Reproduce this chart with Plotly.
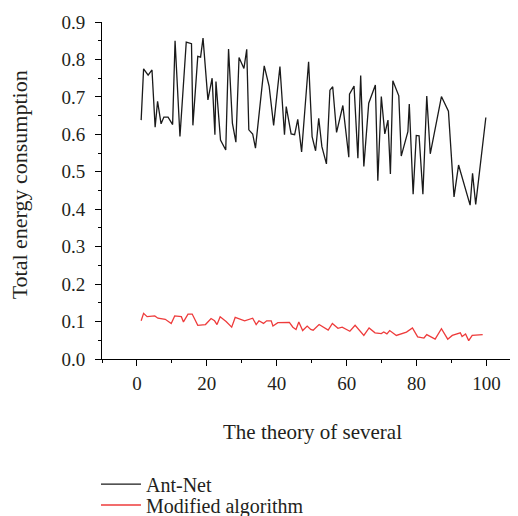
import plotly.graph_objects as go

antnet_x = [1.2, 1.9, 3.2, 4.3, 5.2, 5.9, 6.9, 7.7, 8.9, 10.2, 10.9, 12.3, 14.1, 15.6, 16.0,
            17.4, 18.2, 18.9, 20.3, 21.5, 22.3, 22.6, 23.9, 25.4, 26.2, 27.3, 28.3, 29.2, 30.6,
            31.4, 32.0, 33.1, 33.9, 36.4, 37.8, 39.1, 40.9, 42.2, 42.7, 44.1, 45.1, 46.0, 47.1,
            49.1, 50.1, 51.1, 52.0, 52.9, 54.2, 55.2, 56.0, 57.1, 58.9, 60.6, 60.8, 62.1, 63.2,
            64.0, 64.9, 66.3, 68.2, 68.9, 69.9, 70.9, 71.8, 72.5, 73.2, 74.9, 75.6, 77.5, 77.9,
            79.0, 79.9, 80.7, 81.8, 82.9, 83.9, 87.1, 89.1, 90.7, 92.0, 95.3, 96.0, 96.9, 99.8]
antnet_y = [0.638, 0.775, 0.758, 0.772, 0.619, 0.688, 0.628, 0.646, 0.646, 0.626, 0.850, 0.594,
            0.846, 0.842, 0.624, 0.808, 0.806, 0.857, 0.692, 0.750, 0.599, 0.741, 0.585, 0.558,
            0.828, 0.630, 0.579, 0.805, 0.776, 0.827, 0.612, 0.601, 0.563, 0.783, 0.729, 0.624,
            0.781, 0.599, 0.674, 0.601, 0.599, 0.640, 0.553, 0.794, 0.594, 0.556, 0.643, 0.567,
            0.521, 0.718, 0.727, 0.605, 0.677, 0.539, 0.707, 0.729, 0.536, 0.757, 0.514, 0.683,
            0.732, 0.476, 0.701, 0.601, 0.638, 0.494, 0.743, 0.703, 0.542, 0.607, 0.681, 0.440,
            0.597, 0.596, 0.440, 0.702, 0.548, 0.701, 0.662, 0.433, 0.518, 0.411, 0.496, 0.413,
            0.645]

mod_x = [1.2, 1.9, 2.9, 5.1, 6.0, 8.1, 9.8, 10.8, 12.7, 13.3, 14.6, 15.8, 17.4, 19.6, 21.2,
         22.2, 22.9, 23.8, 25.5, 27.1, 28.1, 30.8, 33.1, 34.1, 34.9, 36.2, 37.1, 38.4, 38.9,
         40.3, 43.6, 44.6, 45.5, 46.3, 47.4, 48.7, 49.7, 50.4, 52.1, 54.7, 55.9, 57.5, 58.7,
         60.9, 62.4, 64.9, 66.4, 68.1, 69.9, 70.6, 71.5, 72.3, 74.2, 77.1, 78.8, 80.3, 82.1,
         82.9, 85.3, 87.1, 88.9, 90.2, 92.5, 93.0, 94.0, 94.9, 95.9, 98.9]
mod_y = [0.102, 0.122, 0.113, 0.115, 0.109, 0.106, 0.095, 0.115, 0.113, 0.099, 0.120, 0.120,
         0.090, 0.092, 0.108, 0.102, 0.092, 0.113, 0.100, 0.085, 0.111, 0.102, 0.109, 0.092,
         0.102, 0.095, 0.102, 0.102, 0.088, 0.097, 0.098, 0.085, 0.079, 0.099, 0.076, 0.088,
         0.079, 0.077, 0.092, 0.077, 0.095, 0.082, 0.085, 0.074, 0.090, 0.063, 0.083, 0.070,
         0.068, 0.072, 0.067, 0.076, 0.063, 0.072, 0.083, 0.059, 0.056, 0.065, 0.053, 0.081,
         0.053, 0.063, 0.070, 0.060, 0.067, 0.049, 0.063, 0.065]

x_ticks = [0, 20, 40, 60, 80, 100]
y_ticks = [0.0, 0.1, 0.2, 0.3, 0.4, 0.5, 0.6, 0.7, 0.8, 0.9]

x_title = "The theory of several"
y_title = "Total energy consumption"

font_family = "Liberation Serif"
text_color = "#231f20"

fig = go.Figure()
fig.add_trace(go.Scatter(x=antnet_x, y=antnet_y, mode="lines", name="Ant-Net",
                         legend="legend",
                         line=dict(color="#1a1a1a", width=1.3)))
fig.add_trace(go.Scatter(x=mod_x, y=mod_y, mode="lines", name="Modified algorithm",
                         legend="legend2",
                         line=dict(color="#ee3b3b", width=1.3)))

legend_common = dict(xref="container", yref="container", xanchor="left", yanchor="top",
                     font=dict(family=font_family, size=20, color=text_color),
                     bgcolor="rgba(0,0,0,0)", itemwidth=40)

fig.update_layout(
    width=510, height=508,
    margin=dict(l=94, r=0, t=14, b=157, autoexpand=False),
    paper_bgcolor="white", plot_bgcolor="white",
    font=dict(family=font_family, size=19, color=text_color),
    showlegend=True,
    legend=dict(x=0.1725, y=0.101, **legend_common),
    legend2=dict(x=0.1725, y=0.060, **legend_common),
    xaxis=dict(range=[-10, 109], tickvals=x_ticks, ticktext=[str(v) for v in x_ticks],
               showline=True, linecolor="black", linewidth=1, ticks="outside",
               ticklen=6, tickcolor="black", showgrid=False, zeroline=False,
               automargin=False, ticklabelstandoff=1,
               minor=dict(ticks="outside", ticklen=3, dtick=10, tick0=0, tickcolor="black"),
               tickfont=dict(family=font_family, size=19, color=text_color)),
    yaxis=dict(range=[0, 0.9], tickvals=y_ticks, ticktext=["%.1f" % v for v in y_ticks],
               showline=True, linecolor="black", linewidth=1, ticks="outside",
               ticklen=6, tickcolor="black", showgrid=False, zeroline=False,
               automargin=False, ticklabelstandoff=6,
               minor=dict(ticks="outside", ticklen=3, dtick=0.05, tick0=0, tickcolor="black"),
               tickfont=dict(family=font_family, size=19, color=text_color)),
    annotations=[
        dict(text=x_title, xref="paper", yref="paper", x=0.506, y=-0.2166,
             xanchor="center", yanchor="middle", showarrow=False,
             font=dict(family=font_family, size=21, color=text_color)),
        dict(text=y_title, xref="paper", yref="paper", x=-0.199, y=0.516,
             xanchor="center", yanchor="middle", showarrow=False, textangle=-90,
             font=dict(family=font_family, size=22, color=text_color)),
    ],
)

fig.write_html("out.html")
